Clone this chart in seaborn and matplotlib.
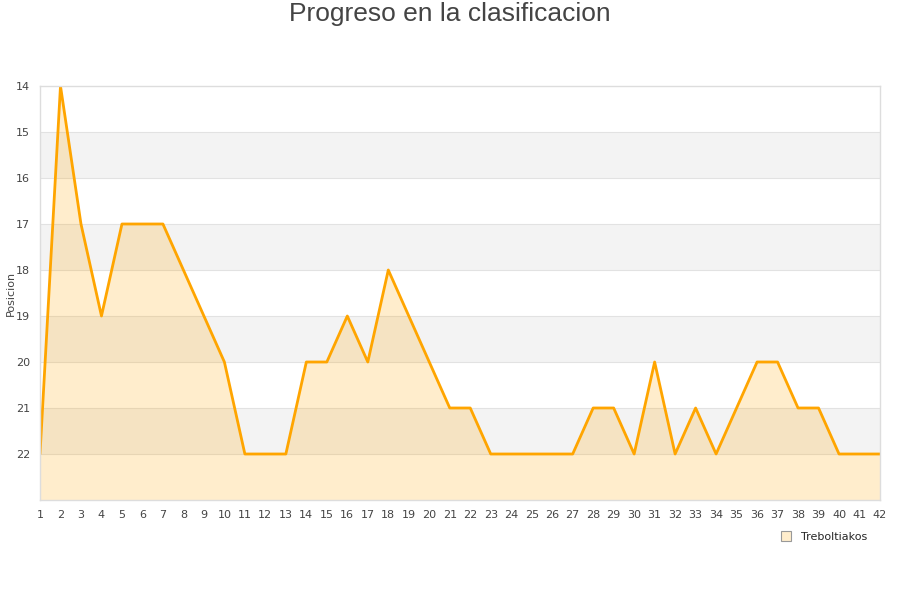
import matplotlib
matplotlib.use("Agg")
import matplotlib.pyplot as plt
import seaborn as sns
import pandas as pd
from matplotlib.lines import Line2D

jornadas = list(range(1, 43))
posiciones = [22, 14, 17, 19, 17, 17, 17, 18, 19, 20,
              22, 22, 22, 20, 20, 19, 20, 18, 19, 20,
              21, 21, 22, 22, 22, 22, 22, 21, 21, 22,
              20, 22, 21, 22, 21, 20, 20, 21, 21, 22,
              22, 22]
equipo = "Treboltiakos"
titulo = "Progreso en la clasificacion"
y_ticks = list(range(14, 23))

df = pd.DataFrame({"Jornada": jornadas, "Posicion": posiciones})

sns.set_style("white")
plt.rcParams['font.family'] = ['DejaVu Sans']

fig = plt.figure(figsize=(9, 6), dpi=100)
ax = fig.add_axes([40/900, 1 - 500/600, 840/900, 414/600])

# alternating bands
for lo in range(14, 23):
    if lo % 2 == 1:
        ax.axhspan(lo, lo + 1, color="#f3f3f3", zorder=0, lw=0)
for v in range(15, 23):
    ax.axhline(v, color="#e2e2e2", lw=0.8, zorder=0.5)

ax.fill_between(df["Jornada"], df["Posicion"], 23, color="#ffa500", alpha=0.2, lw=0, zorder=1)
sns.lineplot(data=df, x="Jornada", y="Posicion", ax=ax, color="#ffa500", lw=2, zorder=2)

ax.set_xlim(1, 42)
ax.set_ylim(23, 14)
ax.set_xticks(jornadas)
ax.set_yticks(y_ticks)
ax.tick_params(axis="both", labelsize=8, colors="#444444", length=0, pad=7)
ax.set_xlabel("")
ax.set_ylabel("")
fig.text(11/900, 1 - 293/600, "Posicion", rotation=90, fontsize=8, color="#444444",
         ha="center", va="center")
for s in ax.spines.values():
    s.set_color("#dddddd")
    s.set_linewidth(1)

fig.suptitle(titulo, x=0.5, y=0.997, fontsize=19, color="#444444",
             family=["Liberation Sans", "DejaVu Sans"], va="top")

handle = Line2D([], [], marker="s", linestyle="none", markersize=7,
                markerfacecolor="#ffedcc", markeredgecolor="#999999", markeredgewidth=0.8)
fig.legend([handle], [equipo], loc="center left", bbox_to_anchor=(770/900, 1 - 537/600),
           frameon=False, fontsize=8, handletextpad=0.4, borderaxespad=0)

fig.savefig("out.png", dpi=100)
